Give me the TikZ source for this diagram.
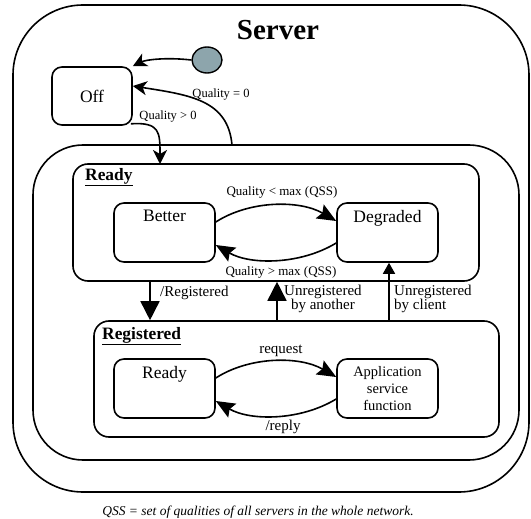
\documentclass[tikz,border=0pt]{standalone}
\usepackage{fontspec}
\setmainfont{Liberation Serif}
\usetikzlibrary{arrows.meta,calc,shapes.geometric}
\definecolor{initfill}{RGB}{141,165,172}
\tikzset{
  statebox/.style={draw, line width=1.6pt, rounded corners=#1, inner sep=0pt},
  smallstate/.style={statebox=10pt, minimum width=101pt, minimum height=59pt},
  conn/.style={line width=1.6pt},
  bigtip/.style={-{Stealth[length=19pt,width=16pt,inset=3pt]}},
  tritip/.style={-{Triangle[length=19pt,width=19pt]}},
  midtip/.style={-{Stealth[length=14pt,width=14pt,inset=4pt]}},
  smalltip/.style={-{Triangle[length=11pt,width=12pt]}},
  statetext/.style={font=\fontsize{17.5}{20}\selectfont, inner sep=0pt},
  lbl/.style={font=\fontsize{15}{14.5}\selectfont, inner sep=0pt},
  qlbl/.style={font=\fontsize{13}{15}\selectfont, inner sep=0pt},
  q0lbl/.style={font=\fontsize{12.5}{14}\selectfont, inner sep=0pt},
  boxtitle/.style={font=\fontsize{17.4}{20}\selectfont\bfseries, inner sep=0pt, anchor=west},
}
\begin{document}
\begin{tikzpicture}[x=1pt,y=1pt]
\useasboundingbox (0,0) rectangle (531,-519);
% containers
\node[statebox=70pt, minimum width=516pt, minimum height=487pt] (Server) at (271,-248.5) {};
\node[font=\fontsize{29}{32}\selectfont\bfseries, inner sep=0pt] (title) at (278,-30) {Server};
\node[statebox=50pt, minimum width=486pt, minimum height=315pt] (Mid) at (276,-302.5) {};
\node[statebox=15pt, minimum width=406pt, minimum height=117pt] (ReadyBox) at (276,-222.5) {};
\node[boxtitle] (readytitle) at (85,-177) {\underline{Ready}};
\node[statebox=15pt, minimum width=405pt, minimum height=116pt] (RegBox) at (296.5,-379) {};
\node[boxtitle] (regtitle) at (102,-336) {\underline{Registered}};
% states
\node[ellipse, draw, line width=1.4pt, fill=initfill, minimum width=30pt, minimum height=26pt, inner sep=0pt] (init) at (207,-60) {};
\node[statebox=10pt, minimum width=80pt, minimum height=58pt, statetext] (Off) at (92,-96) {Off};
\node[smallstate] (Better) at (164.5,-232.5) {};
\node[statetext, anchor=north] (bettertext) at ([yshift=-8pt]Better.north) {Better};
\node[smallstate] (Degraded) at (387.5,-232.5) {};
\node[statetext, anchor=north] (degtext) at ([yshift=-8pt]Degraded.north) {Degraded};
\node[smallstate] (Ready) at (164.5,-388.5) {};
\node[statetext, anchor=north] (readytext) at ([yshift=-8pt]Ready.north) {Ready};
\node[smallstate, align=center, font=\fontsize{14.5}{17}\selectfont] (App) at (387.5,-388.5) {Application\\service\\function};
% connectors top
\draw[conn, midtip] (init.west) .. controls (165,-57) and (145,-60) .. (Off.north east);
\coordinate (q0) at (232,-145);
\draw[conn, midtip] (q0) .. controls (228,-100) and (190,-95) .. ([yshift=10pt]Off.east);
\node[q0lbl] (q0l) at (221,-95) {Quality = 0};
\coordinate (rtop) at (160,-164);
\draw[conn, midtip] ([xshift=-2pt,yshift=2pt]Off.south east) .. controls (160,-122) and (160,-132) .. (rtop);
\node[q0lbl] (qgl) at (168,-117) {Quality > 0};
% Better <-> Degraded
\draw[conn, bigtip] ([yshift=10.5pt]Better.east) .. controls (250,-200) and (300,-200) .. ([yshift=11.5pt]Degraded.west);
\draw[conn, bigtip] ([yshift=-10.5pt]Degraded.west) .. controls (300,-265) and (250,-265) .. ([yshift=-12.5pt]Better.east);
\node[qlbl] (qlt) at (282,-192) {Quality < max (QSS)};
\node[qlbl] (qgt) at (281,-272) {Quality > max (QSS)};
% Ready <-> App
\draw[conn, bigtip] ([yshift=10.5pt]Ready.east) .. controls (250,-356) and (300,-356) .. ([yshift=11.5pt]App.west);
\draw[conn, bigtip] ([yshift=-10.5pt]App.west) .. controls (300,-421) and (250,-421) .. ([yshift=-12.5pt]Ready.east);
\node[lbl] (reql) at (281,-351) {request};
\node[lbl] (repl) at (283,-427) {/reply};
% between Ready and Registered
\draw[conn, tritip] (ReadyBox.south -| 150,0) -- (RegBox.north -| 150,0);
\node[lbl, anchor=west] (regl) at (160,-293) {/Registered};
\draw[conn, tritip] (RegBox.north -| 277,0) -- (ReadyBox.south -| 277,0);
\node[lbl, anchor=west, align=center] (unal) at (284,-299) {Unregistered\\by another};
\draw[conn, smalltip] (RegBox.north -| 389,0) -- (Degraded.south -| 389,0);
\node[lbl, anchor=west, align=left] (uncl) at (394,-299) {Unregistered\\by client};
% footnote
\node[font=\fontsize{13.5}{15}\selectfont\itshape, inner sep=0pt] (foot) at (258,-512) {QSS = set of qualities of all servers in the whole network.};
\end{tikzpicture}
\end{document}
